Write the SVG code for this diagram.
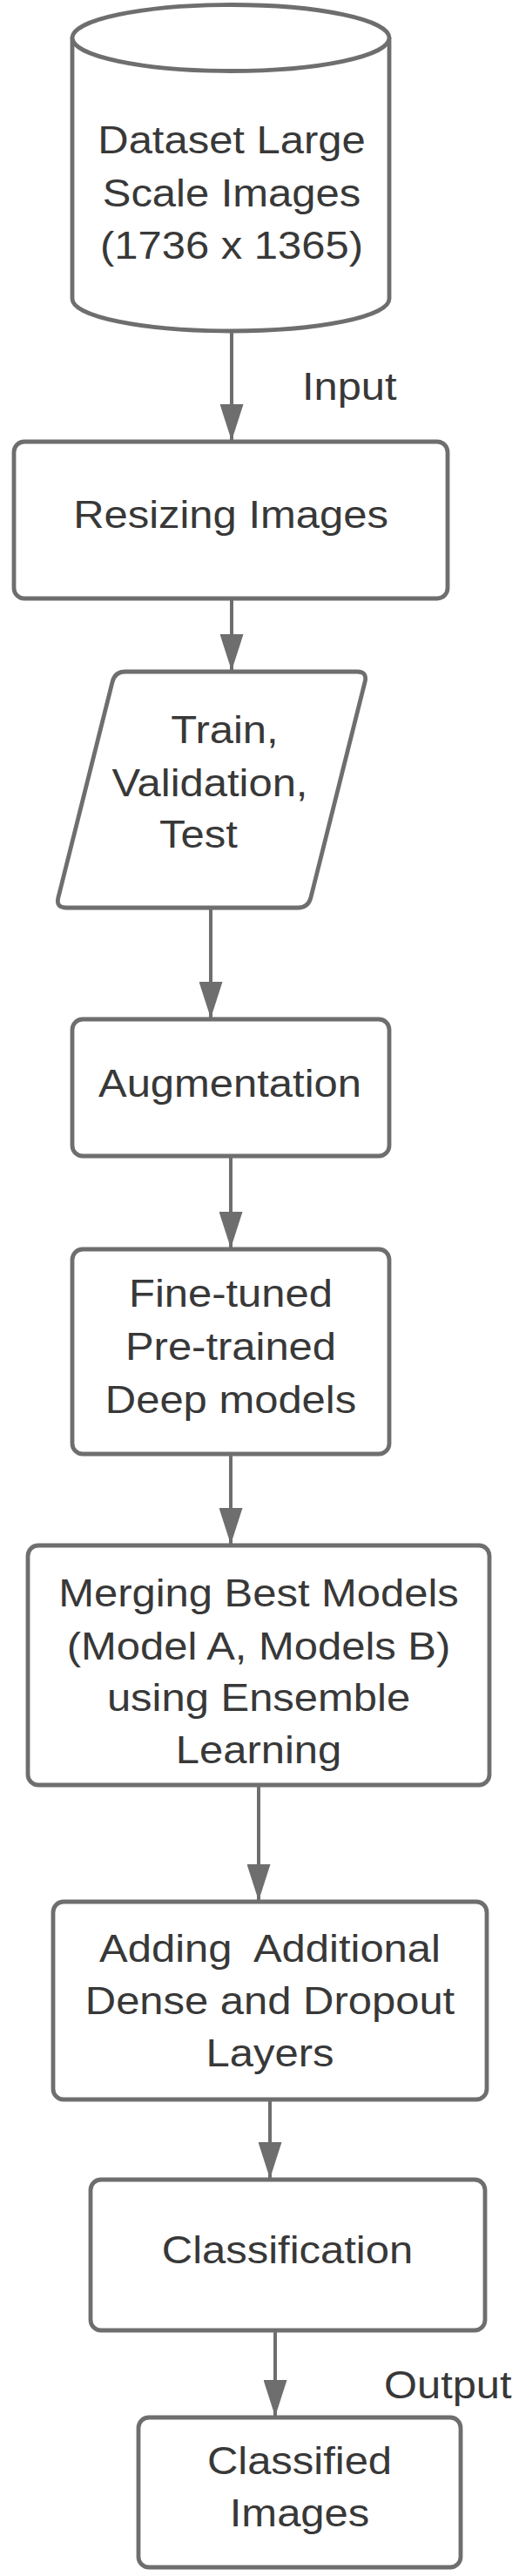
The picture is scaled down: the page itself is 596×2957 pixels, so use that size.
<svg xmlns="http://www.w3.org/2000/svg" width="596" height="2957" viewBox="0 0 596 2957">
  <style>
    .shape { fill: #ffffff; stroke: #6e6e6e; stroke-width: 4.8; stroke-linejoin: round; }
    .conn { fill: none; stroke: #6e6e6e; stroke-width: 4; }
    .t { font-family: "Liberation Sans", Arial, sans-serif; font-size: 44.5px; fill: #383838; text-anchor: middle; }
    .lbl { font-family: "Liberation Sans", Arial, sans-serif; font-size: 44px; fill: #383838; text-anchor: start; }
  </style>
  <defs>
    <marker id="arrow" markerUnits="userSpaceOnUse" markerWidth="42" markerHeight="27" refX="42" refY="13.5" orient="auto">
      <path d="M0,0 L42,13.5 L0,27 Z" fill="#6e6e6e"/>
    </marker>
  </defs>
  <rect x="0" y="0" width="596" height="2957" fill="#ffffff"/>

  <g id="connectors">
    <line class="conn" x1="266" y1="382" x2="266" y2="506" marker-end="url(#arrow)"/>
    <line class="conn" x1="266" y1="688" x2="266" y2="770" marker-end="url(#arrow)"/>
    <line class="conn" x1="242" y1="1043" x2="242" y2="1169" marker-end="url(#arrow)"/>
    <line class="conn" x1="265" y1="1328" x2="265" y2="1433" marker-end="url(#arrow)"/>
    <line class="conn" x1="265" y1="1670" x2="265" y2="1773" marker-end="url(#arrow)"/>
    <line class="conn" x1="297" y1="2050" x2="297" y2="2182" marker-end="url(#arrow)"/>
    <line class="conn" x1="310" y1="2411" x2="310" y2="2501" marker-end="url(#arrow)"/>
    <line class="conn" x1="316" y1="2676" x2="316" y2="2774" marker-end="url(#arrow)"/>
    <text class="lbl" transform="translate(347,459) scale(1.11,1)">Input</text>
    <text class="lbl" transform="translate(441,2753) scale(1.11,1)">Output</text>
  </g>

  <g id="dataset">
    <path class="shape" d="M83,43.5 L83,343 A182,37 0 0 0 447,343 L447,43.5 Z"/>
    <ellipse class="shape" cx="265" cy="43.5" rx="182" ry="38"/>
    <text class="t" transform="translate(266,176) scale(1.1,1)">Dataset Large</text>
    <text class="t" transform="translate(266,237) scale(1.1,1)">Scale Images</text>
    <text class="t" transform="translate(266,297) scale(1.1,1)">(1736 x 1365)</text>
  </g>

  <g id="resizing">
    <rect class="shape" x="16" y="507" width="498" height="180" rx="12"/>
    <text class="t" transform="translate(265,606) scale(1.1,1)">Resizing Images</text>
  </g>

  <g id="split">
    <path class="shape" d="M144,771 L410,771 Q422,771 419.1,782.6 L356.9,1030.4 Q354,1042 342,1042 L76,1042 Q64,1042 66.9,1030.4 L129.1,782.6 Q132,771 144,771 Z"/>
    <text class="t" transform="translate(258,853) scale(1.1,1)">Train,</text>
    <text class="t" transform="translate(241,914) scale(1.1,1)">Validation,</text>
    <text class="t" transform="translate(228,973) scale(1.1,1)">Test</text>
  </g>

  <g id="augmentation">
    <rect class="shape" x="83" y="1170" width="364" height="157" rx="12"/>
    <text class="t" transform="translate(264,1259) scale(1.1,1)">Augmentation</text>
  </g>

  <g id="finetuned">
    <rect class="shape" x="83" y="1434" width="364" height="235" rx="12"/>
    <text class="t" transform="translate(265,1500) scale(1.1,1)">Fine-tuned</text>
    <text class="t" transform="translate(265,1561) scale(1.1,1)">Pre-trained</text>
    <text class="t" transform="translate(265,1622) scale(1.1,1)">Deep models</text>
  </g>

  <g id="merging">
    <rect class="shape" x="32" y="1774" width="530" height="275" rx="12"/>
    <text class="t" transform="translate(297,1844) scale(1.1,1)">Merging Best Models</text>
    <text class="t" transform="translate(297,1905) scale(1.1,1)">(Model A, Models B)</text>
    <text class="t" transform="translate(297,1964) scale(1.1,1)">using Ensemble</text>
    <text class="t" transform="translate(297,2024) scale(1.1,1)">Learning</text>
  </g>

  <g id="adding">
    <rect class="shape" x="61" y="2183" width="498" height="227" rx="12"/>
    <text class="t" xml:space="preserve" transform="translate(310,2252) scale(1.1,1)">Adding  Additional</text>
    <text class="t" transform="translate(310,2312) scale(1.1,1)">Dense and Dropout</text>
    <text class="t" transform="translate(310,2372) scale(1.1,1)">Layers</text>
  </g>

  <g id="classification">
    <rect class="shape" x="104" y="2502" width="453" height="173" rx="12"/>
    <text class="t" transform="translate(330,2598) scale(1.1,1)">Classification</text>
  </g>

  <g id="classified">
    <rect class="shape" x="159" y="2775" width="370" height="172" rx="12"/>
    <text class="t" transform="translate(344,2840) scale(1.1,1)">Classified</text>
    <text class="t" transform="translate(344,2900) scale(1.1,1)">Images</text>
  </g>
</svg>
